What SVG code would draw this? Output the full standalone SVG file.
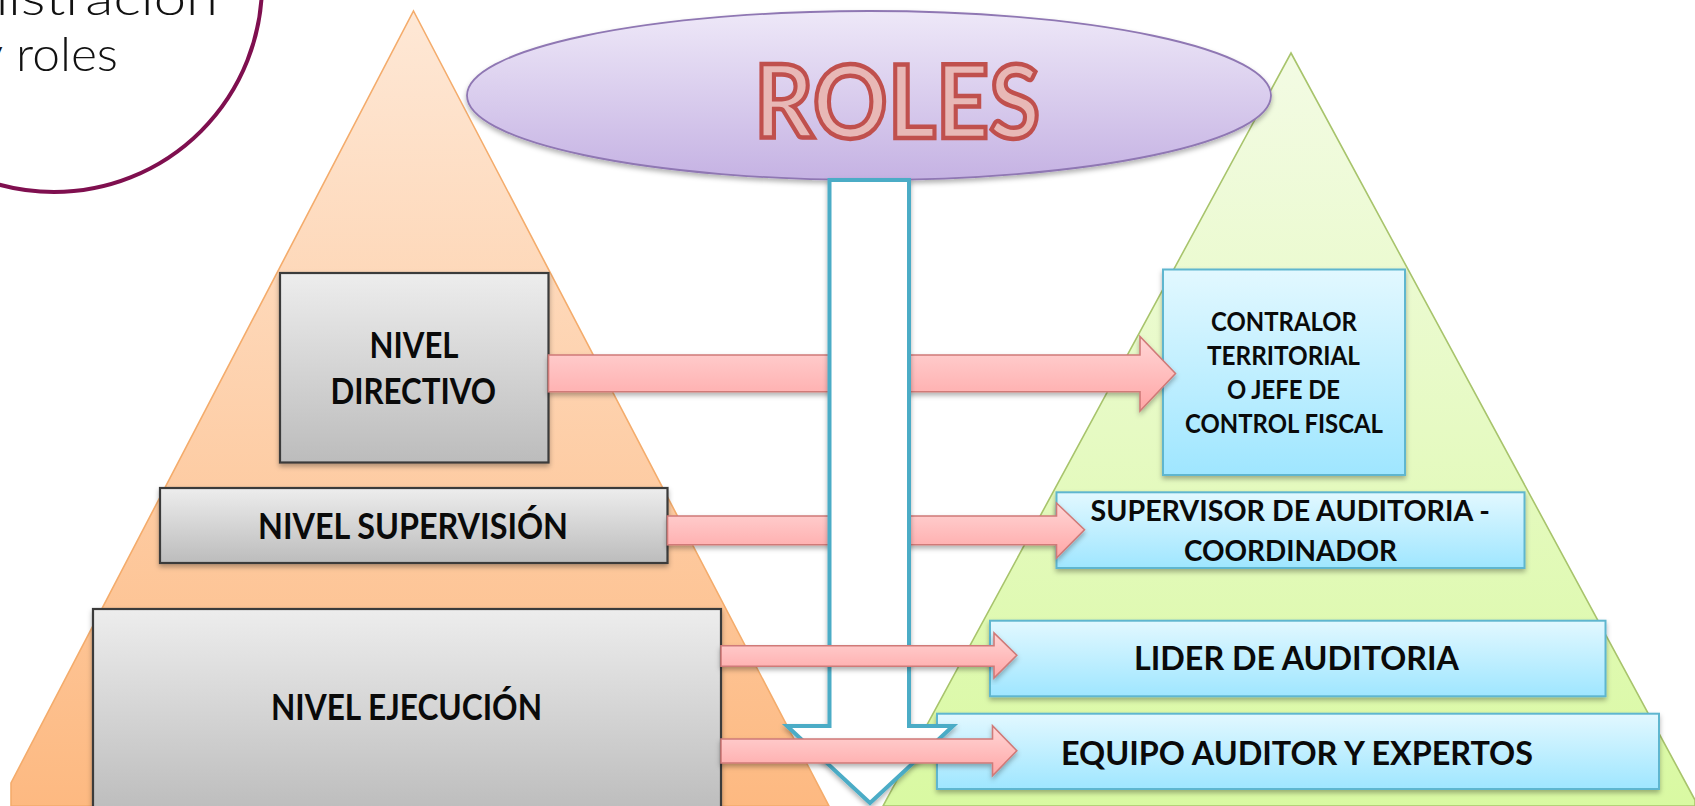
<svg xmlns="http://www.w3.org/2000/svg" width="1695" height="806" viewBox="0 0 1695 806">
<style>
.t{font-family:"Lato","Liberation Sans",sans-serif;font-weight:700;fill:#0a0a0a;text-anchor:start}
.gray{fill:url(#gGray);stroke:#3a3a3a;stroke-width:2.2;filter:url(#sh)}
.blue{fill:url(#gBlue);stroke:#5fb6cf;stroke-width:2;filter:url(#sh)}
.pink{fill:url(#gPink);stroke:#d07a78;stroke-width:1.6;filter:url(#sh)}
.c{font-family:"Lato","Liberation Sans",sans-serif;font-weight:300;font-size:48px;fill:#111}
</style>
<defs>
<linearGradient id="gOr" gradientUnits="userSpaceOnUse" x1="0" y1="11" x2="0" y2="806"><stop offset="0" stop-color="#fee8d6"/><stop offset="1" stop-color="#fdb981"/></linearGradient>
<linearGradient id="gGr" gradientUnits="userSpaceOnUse" x1="0" y1="53" x2="0" y2="806"><stop offset="0" stop-color="#f3fbe4"/><stop offset="1" stop-color="#d9f9a2"/></linearGradient>
<linearGradient id="gPu" x1="0" y1="0" x2="0" y2="1"><stop offset="0" stop-color="#eee8f8"/><stop offset="1" stop-color="#c5b2e3"/></linearGradient>
<linearGradient id="gGray" x1="0" y1="0" x2="0" y2="1"><stop offset="0" stop-color="#ededed"/><stop offset="1" stop-color="#bcbcbc"/></linearGradient>
<linearGradient id="gBlue" x1="0" y1="0" x2="0" y2="1"><stop offset="0" stop-color="#e2f8ff"/><stop offset="1" stop-color="#9fe6ff"/></linearGradient>
<linearGradient id="gPink" gradientUnits="objectBoundingBox" x1="0" y1="0" x2="0" y2="1"><stop offset="0" stop-color="#ffd6d6"/><stop offset="1" stop-color="#ffa6a6"/></linearGradient>
<filter id="sh" x="-5%" y="-10%" width="110%" height="125%"><feDropShadow dx="0" dy="3" stdDeviation="2.5" flood-color="#000" flood-opacity="0.3"/></filter>
</defs>
<g id="node-circulo">
<circle cx="54" cy="-16" r="208" fill="#fff" stroke="#7f0f4f" stroke-width="4"/>
<text class="c" x="-24" y="15" textLength="242" lengthAdjust="spacingAndGlyphs">nistración</text>
<text class="c" x="-21" y="71">y</text>
<text class="c" x="16" y="71" textLength="102" lengthAdjust="spacingAndGlyphs">roles</text>
</g>
<g id="node-piramide-izq"><polygon points="413.5,11 829,806 11,806 11,783" fill="url(#gOr)" stroke="#f4ac6c" stroke-width="1.6"/></g>
<g id="node-piramide-der"><polygon points="1291,53 1695,800 1695,806 883,806" fill="url(#gGr)" stroke="#a8c46c" stroke-width="1.6"/></g>
<g id="node-roles">
<ellipse cx="869" cy="95.500" rx="402" ry="84.500" fill="url(#gPu)" stroke="#8f77b3" stroke-width="1.8" filter="url(#sh)"/>
<text x="754" y="138" textLength="286" lengthAdjust="spacingAndGlyphs" font-family="Lato,'Liberation Sans',sans-serif" font-weight="700" font-size="102" fill="#e8b8b6" stroke="#c0504d" stroke-width="4.500">ROLES</text>
</g>
<g id="node-directivo"><rect class="gray" x="280" y="273" width="268.500" height="189.500"/>
<text class="t" x="369.500" y="358" font-size="36" textLength="89" lengthAdjust="spacingAndGlyphs">NIVEL</text>
<text class="t" x="330.500" y="404" font-size="36" textLength="165.500" lengthAdjust="spacingAndGlyphs">DIRECTIVO</text></g>
<g id="node-supervision"><rect class="gray" x="160" y="488" width="507.500" height="75"/>
<text class="t" x="258" y="539" font-size="36" textLength="310" lengthAdjust="spacingAndGlyphs">NIVEL SUPERVISIÓN</text></g>
<g id="node-ejecucion"><rect class="gray" x="93" y="609" width="628" height="205"/>
<text class="t" x="271" y="720" font-size="36" textLength="271" lengthAdjust="spacingAndGlyphs">NIVEL EJECUCIÓN</text></g>
<g id="node-contralor"><rect class="blue" x="1163" y="269.500" width="242" height="205.500"/>
<text class="t" x="1211" y="331" font-size="26" textLength="146" lengthAdjust="spacingAndGlyphs">CONTRALOR</text>
<text class="t" x="1207" y="365" font-size="26" textLength="153" lengthAdjust="spacingAndGlyphs">TERRITORIAL</text>
<text class="t" x="1227" y="399" font-size="26" textLength="113" lengthAdjust="spacingAndGlyphs">O JEFE DE</text>
<text class="t" x="1185" y="433" font-size="26" textLength="198" lengthAdjust="spacingAndGlyphs">CONTROL FISCAL</text></g>
<g id="node-supervisor"><rect class="blue" x="1056.500" y="492.300" width="468" height="75.700"/>
<text class="t" x="1090.500" y="521" font-size="29" textLength="399.500" lengthAdjust="spacingAndGlyphs">SUPERVISOR DE AUDITORIA -</text>
<text class="t" x="1184" y="561" font-size="29" textLength="213" lengthAdjust="spacingAndGlyphs">COORDINADOR</text></g>
<g id="node-lider"><rect class="blue" x="990" y="620.700" width="615.500" height="75.600"/>
<text class="t" x="1134" y="670" font-size="33" textLength="325" lengthAdjust="spacingAndGlyphs">LIDER DE AUDITORIA</text></g>
<g id="node-equipo"><rect class="blue" x="937" y="713.700" width="722" height="75.300"/>
<text class="t" x="1061" y="765" font-size="33" textLength="472" lengthAdjust="spacingAndGlyphs">EQUIPO AUDITOR Y EXPERTOS</text></g>
<g id="connectors">
<polygon class="pink" points="548.500,355 1140,355 1140,336.500 1175.500,373.500 1140,411 1140,391.700 548.500,391.700"/>
<polygon class="pink" points="667.500,516 1056.500,516 1056.500,503 1084.500,529.700 1056.500,558 1056.500,544.700 667.500,544.700"/>
<polygon points="829.500,180 909,180 909,726 953,726 870,803 787,726 829.500,726" fill="#fff" stroke="#4bacc6" stroke-width="4" filter="url(#sh)"/>
<polygon class="pink" points="721,645.700 994,645.700 994,633 1016.800,655.300 994,678 994,666.300 721,666.300"/>
<polygon class="pink" points="721,739 992.500,739 992.500,725.700 1016.800,750.700 992.500,775.700 992.500,763 721,763"/>
</g>
</svg>
